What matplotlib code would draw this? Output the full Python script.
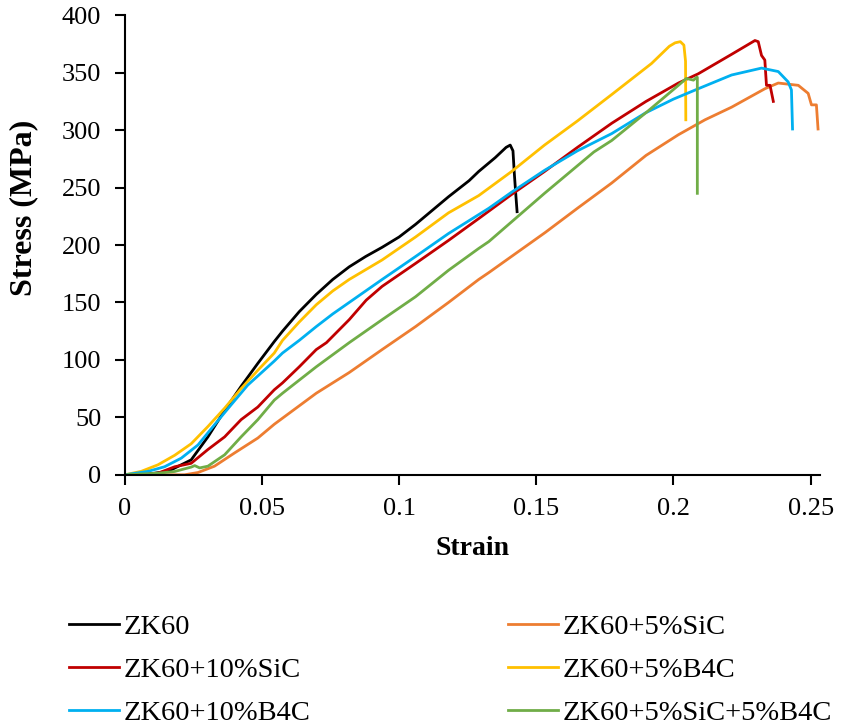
import numpy as np
import matplotlib.pyplot as plt

plt.rcParams['font.family'] = ['Liberation Serif', 'DejaVu Serif']

# Strain / stress curves
zk60_x = [0, 0.008, 0.0158, 0.0242, 0.0303, 0.0364, 0.0424, 0.0485, 0.0545, 0.0575,
          0.0636, 0.0698, 0.0758, 0.0818, 0.0878, 0.0938, 0.1, 0.106, 0.112, 0.118,
          0.1255, 0.129, 0.135, 0.139, 0.1405, 0.1415, 0.142, 0.1425, 0.143]
zk60_y = [0, 0.5, 3, 13, 33, 56, 77, 97, 116, 125,
          142, 157, 170, 181, 190, 198, 207, 218, 230, 242,
          256, 264, 276, 285, 287, 282, 262, 245, 229]

sic5_x = [0, 0.015, 0.0218, 0.0267, 0.0327, 0.04, 0.0485, 0.0545, 0.0647, 0.0698,
          0.0818, 0.0938, 0.106, 0.118, 0.129, 0.1327, 0.1533, 0.165, 0.1775, 0.19,
          0.2018, 0.2115, 0.2212, 0.2333, 0.2382, 0.2455, 0.2491, 0.2503, 0.2521, 0.2527]
sic5_y = [0, 0, 0, 2, 7.5, 19, 32, 44, 62, 71,
          89, 109, 129, 150, 170, 176, 211, 232, 254, 278,
          296, 309, 320, 336, 341, 339, 332, 322, 322, 301]

sic10_x = [0, 0.006, 0.0121, 0.0182, 0.0242, 0.0303, 0.0364, 0.0424, 0.0485, 0.0545,
           0.0575, 0.0636, 0.0698, 0.0735, 0.0818, 0.088, 0.0938, 0.106, 0.118, 0.129,
           0.141, 0.153, 0.165, 0.1775, 0.19, 0.2018, 0.209, 0.2212, 0.2297, 0.2309,
           0.2321, 0.2333, 0.2339, 0.2352, 0.2364]
sic10_y = [0, 0.5, 1.4, 7, 10, 22, 33, 48, 59, 74,
           80, 94, 109, 115, 135, 152, 164, 184, 204, 223,
           244, 264, 285, 306, 325, 341, 349, 366, 378, 377,
           365, 361, 339, 339, 325]

b4c5_x = [0, 0.006, 0.0121, 0.0182, 0.0242, 0.0303, 0.0364, 0.0424, 0.0485, 0.0545,
          0.0575, 0.0636, 0.0698, 0.0758, 0.0818, 0.0938, 0.106, 0.118, 0.129, 0.141,
          0.153, 0.165, 0.1775, 0.192, 0.1985, 0.2006, 0.2025, 0.2038, 0.2044, 0.2045]
b4c5_y = [0, 3, 8.7, 17, 27, 42, 58, 75, 91, 106,
          117, 133, 148, 160, 170, 187, 207, 228, 243, 264,
          287, 308, 331, 358, 373, 376, 377, 374, 360, 309]

b4c10_x = [0, 0.0085, 0.0145, 0.0206, 0.0267, 0.0327, 0.0388, 0.0448, 0.0545, 0.0575,
           0.0636, 0.0698, 0.0758, 0.0818, 0.0938, 0.106, 0.118, 0.1327, 0.141, 0.153,
           0.165, 0.1775, 0.1898, 0.2, 0.209, 0.2212, 0.2321, 0.2382, 0.2418, 0.243, 0.2434]
b4c10_y = [0, 3, 7, 14.5, 26, 43.5, 61, 78, 99, 106,
           117, 129, 140, 150, 170, 190, 210, 232, 246, 265,
           282, 297, 315, 327, 336, 348, 354, 351, 342, 335, 301]

mix_x = [0, 0.0121, 0.0182, 0.0242, 0.0255, 0.0273, 0.0303, 0.0364, 0.0424, 0.0485,
         0.0545, 0.0575, 0.0698, 0.0818, 0.0938, 0.106, 0.118, 0.129, 0.1327, 0.153,
         0.171, 0.1775, 0.1909, 0.2018, 0.2047, 0.2073, 0.2084, 0.2087, 0.2087]
mix_y = [0, 1.4, 2.9, 6.7, 8, 6, 7.5, 17.4, 33, 48,
         65, 71, 94, 115, 135, 155, 178, 197, 203, 245,
         281, 291, 317, 339, 345, 343.5, 346, 346, 245]

series = [
    ('ZK60', zk60_x, zk60_y, 'black'),
    ('ZK60+5%SiC', sic5_x, sic5_y, '#ED7D31'),
    ('ZK60+10%SiC', sic10_x, sic10_y, '#C00000'),
    ('ZK60+5%B4C', b4c5_x, b4c5_y, '#FFC000'),
    ('ZK60+10%B4C', b4c10_x, b4c10_y, '#00B0F0'),
    ('ZK60+5%SiC+5%B4C', mix_x, mix_y, '#70AD47'),
]

fig = plt.figure(figsize=(8.43, 7.26), dpi=100)
ax = fig.add_axes([0.148, 0.346, 0.825, 0.633])

lines = {}
for name, x, y, color in series:
    line, = ax.plot(x, y, color=color, linewidth=2, label=name)
    lines[name] = line

ax.set_xlim(0, 0.2535)
ax.set_ylim(0, 400)
ax.set_xticks([0, 0.05, 0.1, 0.15, 0.2, 0.25])
ax.set_xticklabels(['0', '0.05', '0.1', '0.15', '0.2', '0.25'])
ax.set_yticks(np.arange(0, 401, 50))

ax.spines['top'].set_visible(False)
ax.spines['right'].set_visible(False)
for s in ['left', 'bottom']:
    ax.spines[s].set_linewidth(1.5)
ax.tick_params(direction='out', length=7, width=1.5, labelsize=19, pad=10)

ax.set_xlabel('Strain', fontsize=20, fontweight='bold', labelpad=11)
ax.set_ylabel('Stress (MPa)', fontsize=23, fontweight='bold')
ax.yaxis.set_label_coords(-0.125, 0.58)

# legend: two columns, filled row by row as in the picture
order = ['ZK60', 'ZK60+10%SiC', 'ZK60+10%B4C',
         'ZK60+5%SiC', 'ZK60+5%B4C', 'ZK60+5%SiC+5%B4C']
fig.legend([lines[n] for n in order], order, ncol=2, loc='upper left',
           bbox_to_anchor=(0.052, 0.19), frameon=False, fontsize=20.5,
           handlelength=1.75, handletextpad=0.15, columnspacing=6.94,
           labelspacing=0.6)

plt.savefig('out.png', dpi=100)
